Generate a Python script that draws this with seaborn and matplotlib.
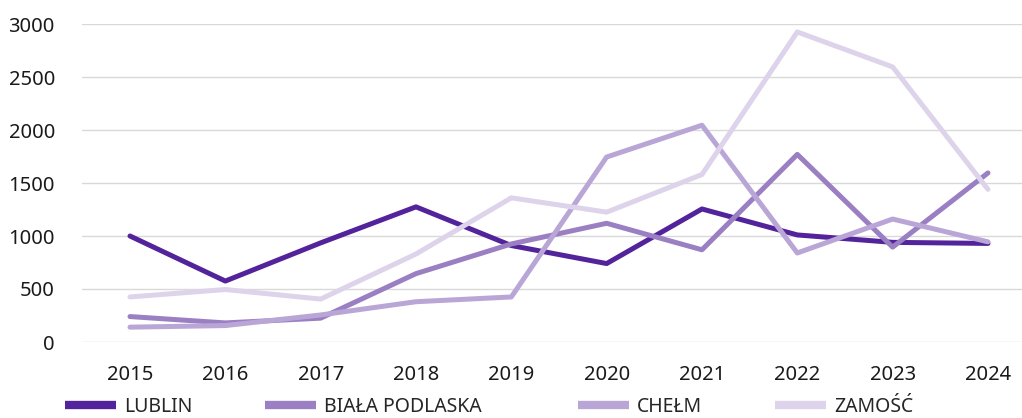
import matplotlib
matplotlib.use("Agg")
import matplotlib.pyplot as plt
from matplotlib.lines import Line2D
import seaborn as sns
import pandas as pd

years = [2015, 2016, 2017, 2018, 2019, 2020, 2021, 2022, 2023, 2024]
cities = ["LUBLIN", "BIAŁA PODLASKA", "CHEŁM", "ZAMOŚĆ"]
lublin = [1000, 575, 935, 1275, 910, 740, 1255, 1010, 940, 930]
biala_podlaska = [240, 180, 225, 645, 925, 1120, 870, 1770, 895, 1595]
chelm = [140, 155, 255, 380, 425, 1745, 2045, 840, 1160, 945]
zamosc = [425, 495, 405, 830, 1360, 1225, 1580, 2925, 2595, 1440]
colors = ["#52239b", "#9a7fc3", "#b9a6d6", "#ddd3ea"]

series = [lublin, biala_podlaska, chelm, zamosc]
df = pd.DataFrame({
    "idx": [i for _ in cities for i in range(len(years))],
    "value": [v for s in series for v in s],
    "city": [c for c in cities for _ in years],
})

sns.set_theme(style="white")
plt.rcParams["font.family"] = ["Noto Sans", "DejaVu Sans"]

W, H = 1022, 418
fig = plt.figure(figsize=(W / 100, H / 100), dpi=100)
ax = fig.add_axes([82 / W, (H - 342) / H, 940 / W, (342 - 24) / H])

sns.lineplot(data=df, x="idx", y="value", hue="city", hue_order=cities,
             palette=colors, linewidth=3.6, ax=ax, legend=False,
             solid_capstyle="round", solid_joinstyle="round")
for ln in ax.lines:
    ln.set_clip_on(False)

ax.set_xlim(-0.5035, 9.357)
ax.set_ylim(0, 3000)
ax.set_yticks(range(0, 3001, 500))
ax.set_xticks(range(len(years)))
ax.set_xticklabels([str(y) for y in years])
ax.grid(axis="y", color="#d9d9d9", linewidth=1)
ax.set_axisbelow(True)
for s in ax.spines.values():
    s.set_visible(False)
ax.set_xlabel("")
ax.set_ylabel("")
ax.tick_params(axis="both", length=0, labelsize=14.5, colors="#1a1a1a")
ax.tick_params(axis="y", pad=19.5)
ax.tick_params(axis="x", pad=16.5)

# legend entries laid out along the bottom edge
legend_x = [65, 265, 578, 775]
for c, name, x0 in zip(colors, cities, legend_x):
    h = Line2D([0], [0], color=c, linewidth=6, solid_capstyle="butt")
    fig.legend([h], [name], loc="center left", bbox_to_anchor=(x0 / W, (H - 407) / H),
               frameon=False, borderpad=0, borderaxespad=0, handlelength=2.6,
               handletextpad=0.45, prop={"size": 14})

fig.savefig("out.png", dpi=100)
